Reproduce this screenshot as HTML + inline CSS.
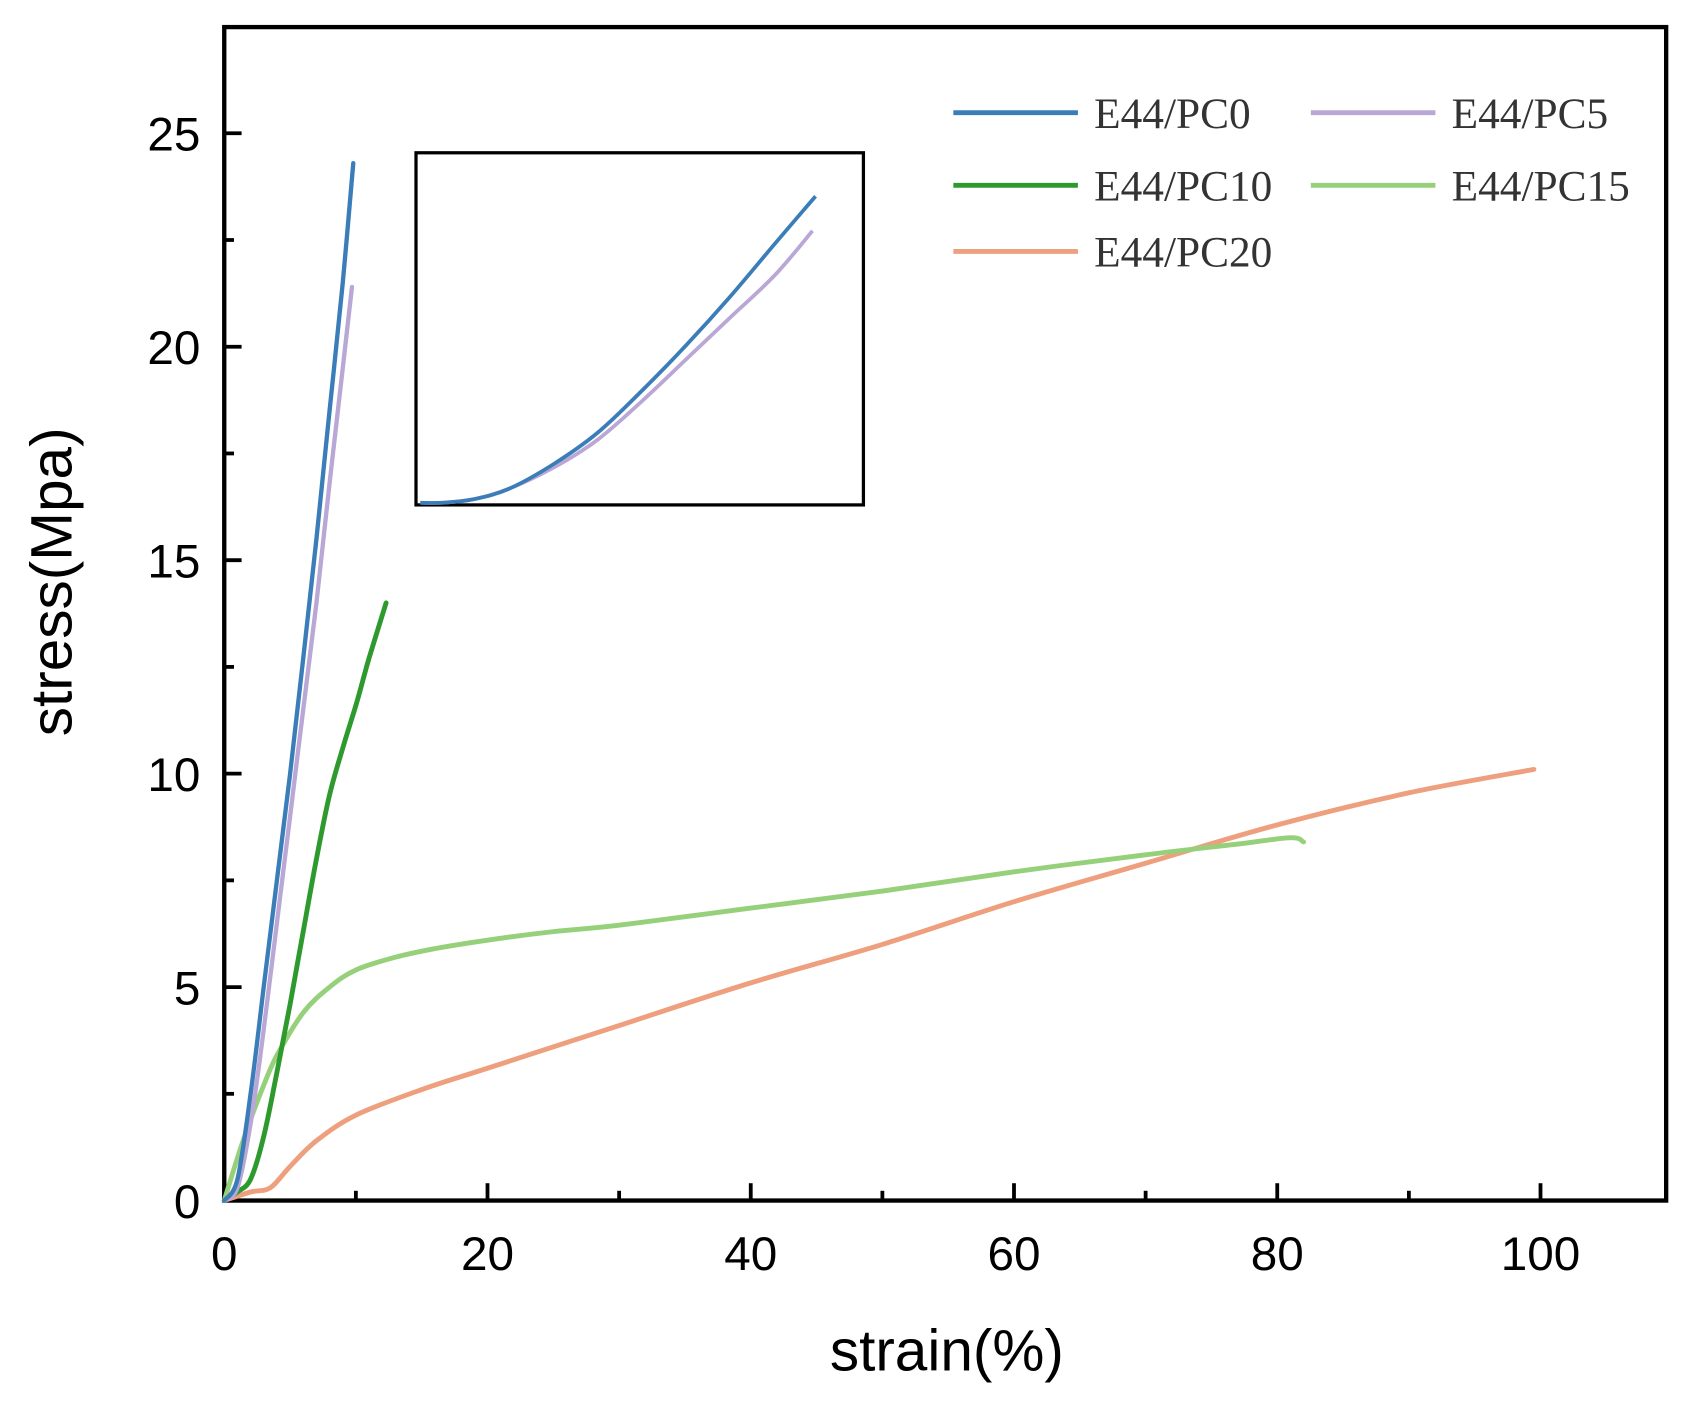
<!DOCTYPE html>
<html><head><meta charset="utf-8"><style>
html,body{margin:0;padding:0;background:#fff;}
svg{display:block;}
</style></head><body>
<svg id="chart" width="1690" height="1401" viewBox="0 0 1560 1293" preserveAspectRatio="none" xmlns="http://www.w3.org/2000/svg">
<rect x="207" y="25" width="1331" height="1083" fill="none" stroke="#000" stroke-width="4"/>
<g id="ticks"></g>
<g id="series"></g>
<rect x="384" y="141" width="413" height="325" fill="none" stroke="#000" stroke-width="3"/>
<g id="inset"></g>
<g id="legend" font-family="'Liberation Serif', serif" font-size="40" fill="#333"></g>
<text x="874" y="1265" text-anchor="middle" font-family="'Liberation Sans', sans-serif" font-size="54">strain(%)</text>
<text transform="translate(66,537) rotate(-90)" text-anchor="middle" font-family="'Liberation Sans', sans-serif" font-size="54">stress(Mpa)</text>
</svg>
<script>
const xTicks = [0, 20, 40, 60, 80, 100];
const xMinor = [10, 30, 50, 70, 90];
const yTicks = [0, 5, 10, 15, 20, 25];
const yMinor = [2.5, 7.5, 12.5, 17.5, 22.5];
const seriesNames = ["E44/PC0", "E44/PC5", "E44/PC10", "E44/PC15", "E44/PC20"];
const pc0 = [[0,0],[1,0.5],[2,2.5],[3,5],[4,7.5],[5,10],[6,12.7],[7,15.5],[8,18.5],[9,21.5],[9.8,24.3]];
const pc5 = [[0,0],[1,0.3],[2,1.8],[3,4],[4,6.5],[5,9],[6,11.5],[7,14],[8,16.8],[9,19.5],[9.7,21.4]];
const pc10 = [[0,0],[1,0.2],[2,0.5],[3,1.5],[4,3],[5,4.6],[6,6.3],[7,8],[8,9.5],[9,10.6],[10,11.6],[11,12.7],[12.3,14]];
const pc15 = [[0,0],[1,1],[2,1.9],[3,2.7],[4,3.4],[6,4.4],[8,5],[10,5.4],[13,5.7],[16,5.9],[20,6.1],[25,6.3],[30,6.45],[40,6.85],[50,7.25],[60,7.7],[70,8.1],[77,8.35],[81,8.5],[82,8.4]];
const pc20 = [[0,0],[2,0.2],[3.5,0.3],[5,0.8],[7,1.4],[10,2],[15,2.6],[20,3.1],[30,4.1],[40,5.1],[50,6],[60,7],[70,7.9],[80,8.8],[90,9.55],[99.5,10.1]];
const insetPc0 = [[0,0],[0.05,0],[0.12,0.01],[0.2,0.04],[0.3,0.11],[0.4,0.2],[0.5,0.32],[0.6,0.45],[0.7,0.59],[0.8,0.74],[0.892,0.876]];
const insetPc5 = [[0,0],[0.05,0],[0.12,0.01],[0.2,0.04],[0.3,0.1],[0.4,0.18],[0.5,0.29],[0.6,0.41],[0.7,0.53],[0.8,0.65],[0.885,0.777]];

const NS = "http://www.w3.org/2000/svg";
const X0 = 207, Y0 = 1108, XS = 12.15, YS = 39.4;
const sx = v => X0 + v * XS;
const sy = v => Y0 - v * YS;
const ix = v => 388 + v * 409;
const iy = v => 464 - v * 323;
function mk(tag, attrs, parent) {
  const e = document.createElementNS(NS, tag);
  for (const k in attrs) e.setAttribute(k, attrs[k]);
  parent.appendChild(e);
  return e;
}
function smooth(pts, fx, fy) {
  const P = pts.map(p => [fx(p[0]), fy(p[1])]);
  let d = 'M' + P[0][0].toFixed(1) + ',' + P[0][1].toFixed(1);
  for (let i = 0; i < P.length - 1; i++) {
    const p0 = P[i - 1] || P[i], p1 = P[i], p2 = P[i + 1], p3 = P[i + 2] || p2;
    const c1 = [p1[0] + (p2[0] - p0[0]) / 6, p1[1] + (p2[1] - p0[1]) / 6];
    const c2 = [p2[0] - (p3[0] - p1[0]) / 6, p2[1] - (p3[1] - p1[1]) / 6];
    d += 'C' + c1.map(v => v.toFixed(1)).join(',') + ' ' + c2.map(v => v.toFixed(1)).join(',') + ' ' + p2.map(v => v.toFixed(1)).join(',');
  }
  return d;
}
const ticks = document.getElementById('ticks');
xTicks.forEach(v => {
  const l = mk('line', {x1: sx(v), x2: sx(v), y1: Y0, y2: Y0 - 16, stroke: '#000', 'stroke-width': 3.5}, ticks);
  
  
  const t = mk('text', {x: sx(v), y: Y0 + 64, 'text-anchor': 'middle', 'font-family': "'Liberation Sans', sans-serif", 'font-size': 44}, ticks);
  t.textContent = v;
  
  
});
xMinor.forEach(v => {
  const l = mk('line', {x1: sx(v), x2: sx(v), y1: Y0, y2: Y0 - 9, stroke: '#000', 'stroke-width': 3.5}, ticks);
  
  
});
yTicks.forEach(v => {
  const l = mk('line', {x1: X0, x2: X0 + 16, y1: sy(v), y2: sy(v), stroke: '#000', 'stroke-width': 3.5}, ticks);
  
  
  const t = mk('text', {x: X0 - 22, y: sy(v) + 16, 'text-anchor': 'end', 'font-family': "'Liberation Sans', sans-serif", 'font-size': 44}, ticks);
  t.textContent = v;
  
  
});
yMinor.forEach(v => {
  const l = mk('line', {x1: X0, x2: X0 + 9, y1: sy(v), y2: sy(v), stroke: '#000', 'stroke-width': 3.5}, ticks);
  
  
});
const colors = ['#3a7db8', '#b9a7d6', '#2e9a2e', '#96d07a', '#ee9f7e'];
const widths = [4, 4, 4.5, 4.5, 4.5];
const all = [pc0, pc5, pc10, pc15, pc20];
const sg = document.getElementById('series');
[4, 3, 2, 1, 0].forEach(i => {
  const p = mk('path', {d: smooth(all[i], sx, sy), fill: 'none', stroke: colors[i], 'stroke-width': widths[i], 'stroke-linejoin': 'round', 'stroke-linecap': 'round'}, sg);
  
  
});
const ig = document.getElementById('inset');
[[insetPc5, 1], [insetPc0, 0]].forEach(([arr, i]) => {
  const p = mk('path', {d: smooth(arr, ix, iy), fill: 'none', stroke: colors[i], 'stroke-width': 3.5, 'stroke-linejoin': 'round'}, ig);
  
  
});
const lg = document.getElementById('legend');
const legPos = [[880, 104], [1210, 104], [880, 171], [1210, 171], [880, 232]];
legPos.forEach((pos, i) => {
  const l = mk('line', {x1: pos[0], x2: pos[0] + 115, y1: pos[1], y2: pos[1], stroke: colors[i], 'stroke-width': 4.5}, lg);
  
  
  const t = mk('text', {x: pos[0] + 130, y: pos[1] + 14}, lg);
  t.textContent = seriesNames[i];
  
  
});
</script>
</body></html>
